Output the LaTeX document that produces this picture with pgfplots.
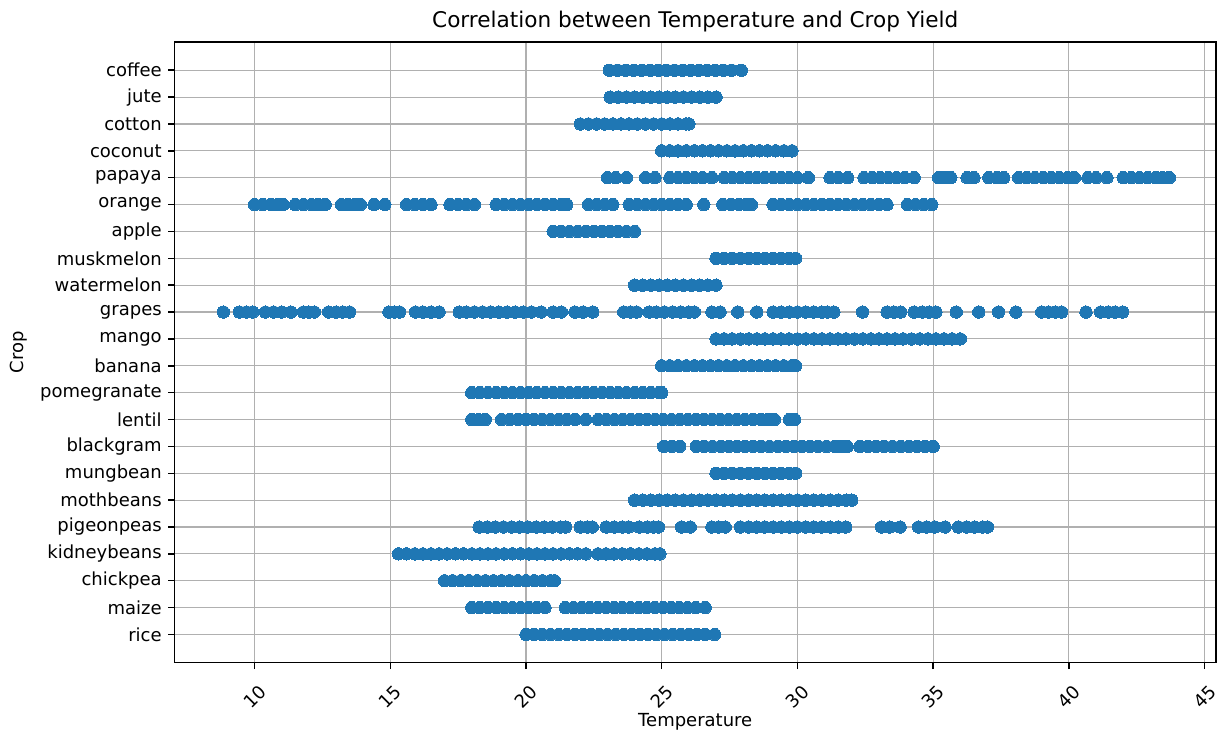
\documentclass[border=0pt]{standalone}
\usepackage{fontspec}
\setmainfont{DejaVu Sans}
\usepackage{pgfplots}
\pgfplotsset{compat=1.18}
\definecolor{mplblue}{HTML}{1F77B4}
\definecolor{gridgray}{HTML}{B0B0B0}
\pgfplotsset{crop/.style={only marks, mark=*, mark size=6.2pt, color=mplblue, mark options={fill=mplblue, draw=mplblue, line width=0pt}}}
\begin{document}
\begin{tikzpicture}
\begin{axis}[
  at={(0,0)}, anchor=south west,
  scale only axis,
  width=1041.5pt, height=620.7pt,
  xmin=7.05, xmax=45.42,
  ymin=-1.05, ymax=22.05,
  xtick={10,15,20,25,30,35,40,45},
  ytick={0,...,21},
  yticklabels={rice,maize,chickpea,kidneybeans,pigeonpeas,mothbeans,mungbean,blackgram,lentil,pomegranate,banana,mango,grapes,watermelon,muskmelon,apple,orange,papaya,coconut,cotton,jute,coffee},
  xtick pos=bottom, ytick pos=left,
  tick align=outside,
  major tick length=6.3pt,
  every tick/.style={black, line width=1.44pt},
  axis line style={line width=1.44pt, black},
  grid=major,
  major grid style={line width=1.15pt, draw=gridgray},
  axis on top,
  /pgf/number format/assume math mode=true,
  tick label style={font=\fontsize{18}{21.6}\selectfont},
  xticklabel style={yshift=-27.8pt, rotate=45, anchor=center, inner sep=0pt},
  yticklabel style={anchor=east, inner sep=0pt, xshift=-6.3pt},
  every axis title/.style={at={(axis description cs:0.5,1)}, anchor=center, yshift=20pt, font=\fontsize{21.6}{26}\selectfont},
  every axis x label/.style={at={(axis description cs:0.5,0)}, anchor=center, yshift=-59pt, font=\fontsize{18}{21.6}\selectfont},
  every axis y label/.style={at={(axis description cs:0,0.5)}, xshift=-155.5pt, rotate=90, anchor=center, font=\fontsize{18}{21.6}\selectfont},
  title={Correlation between Temperature and Crop Yield},
  xlabel={Temperature},
  ylabel={Crop},
]
% rice
\addplot[crop] coordinates {(20.0,0)(20.3,0)(20.6,0)(20.9,0)(21.2,0)(21.5,0)(21.8,0)(22.1,0)(22.4,0)(22.7,0)(23.0,0)(23.3,0)(23.6,0)(23.9,0)(24.2,0)(24.5,0)(24.8,0)(25.1,0)(25.4,0)(25.7,0)(26.0,0)(26.3,0)(26.6,0)(26.95,0)};
% maize
\addplot[crop] coordinates {(18.0,1)(18.3,1)(18.6,1)(18.9,1)(19.2,1)(19.5,1)(19.8,1)(20.1,1)(20.4,1)(20.7,1)(21.45,1)(21.75,1)(22.05,1)(22.35,1)(22.65,1)(22.95,1)(23.25,1)(23.55,1)(23.85,1)(24.15,1)(24.45,1)(24.75,1)(25.05,1)(25.35,1)(25.65,1)(25.95,1)(26.25,1)(26.6,1)};
% chickpea
\addplot[crop] coordinates {(17.0,2)(17.3,2)(17.6,2)(17.9,2)(18.2,2)(18.5,2)(18.8,2)(19.1,2)(19.4,2)(19.7,2)(20.0,2)(20.3,2)(20.6,2)(20.9,2)(21.05,2)};
% kidneybeans
\addplot[crop] coordinates {(15.3,3)(15.6,3)(15.9,3)(16.2,3)(16.5,3)(16.8,3)(17.1,3)(17.4,3)(17.7,3)(18.0,3)(18.3,3)(18.6,3)(18.9,3)(19.2,3)(19.5,3)(19.8,3)(20.1,3)(20.4,3)(20.7,3)(21.0,3)(21.3,3)(21.6,3)(21.9,3)(22.2,3)(22.65,3)(22.95,3)(23.25,3)(23.55,3)(23.85,3)(24.15,3)(24.45,3)(24.75,3)(24.93,3)};
% pigeonpeas
\addplot[crop] coordinates {(18.27,4)(18.57,4)(18.87,4)(19.17,4)(19.47,4)(19.77,4)(20.07,4)(20.37,4)(20.67,4)(20.97,4)(21.27,4)(21.46,4)(22.0,4)(22.25,4)(22.44,4)(22.95,4)(23.25,4)(23.55,4)(23.78,4)(24.17,4)(24.47,4)(24.7,4)(24.88,4)(25.73,4)(26.05,4)(26.85,4)(27.1,4)(27.34,4)(27.9,4)(28.2,4)(28.5,4)(28.8,4)(29.1,4)(29.4,4)(29.7,4)(30.0,4)(30.3,4)(30.6,4)(30.9,4)(31.2,4)(31.5,4)(31.78,4)(33.1,4)(33.4,4)(33.78,4)(34.46,4)(34.76,4)(35.06,4)(35.44,4)(35.93,4)(36.23,4)(36.53,4)(36.83,4)(37.0,4)};
% mothbeans
\addplot[crop] coordinates {(24.0,5)(24.3,5)(24.6,5)(24.9,5)(25.2,5)(25.5,5)(25.8,5)(26.1,5)(26.4,5)(26.7,5)(27.0,5)(27.3,5)(27.6,5)(27.9,5)(28.2,5)(28.5,5)(28.8,5)(29.1,5)(29.4,5)(29.7,5)(30.0,5)(30.3,5)(30.6,5)(30.9,5)(31.2,5)(31.5,5)(31.8,5)(32.0,5)};
% mungbean
\addplot[crop] coordinates {(27.0,6)(27.3,6)(27.6,6)(27.9,6)(28.2,6)(28.5,6)(28.8,6)(29.1,6)(29.4,6)(29.7,6)(29.93,6)};
% blackgram
\addplot[crop] coordinates {(25.07,7)(25.37,7)(25.66,7)(26.27,7)(26.57,7)(26.87,7)(27.17,7)(27.47,7)(27.77,7)(28.07,7)(28.37,7)(28.67,7)(28.97,7)(29.27,7)(29.57,7)(29.87,7)(30.17,7)(30.47,7)(30.77,7)(31.07,7)(31.37,7)(31.6,7)(31.83,7)(32.3,7)(32.6,7)(32.9,7)(33.2,7)(33.5,7)(33.8,7)(34.1,7)(34.4,7)(34.7,7)(35.0,7)};
% lentil
\addplot[crop] coordinates {(18.0,8)(18.25,8)(18.5,8)(19.1,8)(19.4,8)(19.7,8)(20.0,8)(20.3,8)(20.6,8)(20.9,8)(21.2,8)(21.5,8)(21.8,8)(22.2,8)(22.66,8)(22.96,8)(23.26,8)(23.56,8)(23.86,8)(24.16,8)(24.46,8)(24.76,8)(25.06,8)(25.36,8)(25.66,8)(25.96,8)(26.26,8)(26.56,8)(26.86,8)(27.16,8)(27.46,8)(27.76,8)(28.06,8)(28.36,8)(28.66,8)(28.9,8)(29.15,8)(29.7,8)(29.9,8)};
% pomegranate
\addplot[crop] coordinates {(18.0,9)(18.3,9)(18.6,9)(18.9,9)(19.2,9)(19.5,9)(19.8,9)(20.1,9)(20.4,9)(20.7,9)(21.0,9)(21.3,9)(21.6,9)(21.9,9)(22.2,9)(22.5,9)(22.8,9)(23.1,9)(23.4,9)(23.7,9)(24.0,9)(24.3,9)(24.6,9)(24.9,9)(25.0,9)};
% banana
\addplot[crop] coordinates {(25.0,10)(25.3,10)(25.6,10)(25.9,10)(26.2,10)(26.5,10)(26.8,10)(27.1,10)(27.4,10)(27.7,10)(28.0,10)(28.3,10)(28.6,10)(28.9,10)(29.2,10)(29.5,10)(29.8,10)(29.93,10)};
% mango
\addplot[crop] coordinates {(27.0,11)(27.3,11)(27.6,11)(27.9,11)(28.2,11)(28.5,11)(28.8,11)(29.1,11)(29.4,11)(29.7,11)(30.0,11)(30.3,11)(30.6,11)(30.9,11)(31.2,11)(31.5,11)(31.8,11)(32.1,11)(32.4,11)(32.7,11)(33.0,11)(33.3,11)(33.6,11)(33.9,11)(34.2,11)(34.5,11)(34.8,11)(35.1,11)(35.4,11)(35.7,11)(36.0,11)};
% grapes
\addplot[crop] coordinates {(8.85,12)(9.44,12)(9.7,12)(9.93,12)(10.4,12)(10.7,12)(11.0,12)(11.34,12)(11.8,12)(12.0,12)(12.2,12)(12.73,12)(13.0,12)(13.25,12)(13.5,12)(14.95,12)(15.15,12)(15.34,12)(15.93,12)(16.2,12)(16.5,12)(16.8,12)(17.54,12)(17.8,12)(18.1,12)(18.4,12)(18.7,12)(19.0,12)(19.3,12)(19.6,12)(19.9,12)(20.2,12)(20.56,12)(21.0,12)(21.3,12)(21.8,12)(22.1,12)(22.46,12)(23.6,12)(23.85,12)(24.07,12)(24.54,12)(24.8,12)(25.1,12)(25.4,12)(25.7,12)(26.0,12)(26.2,12)(26.85,12)(27.15,12)(27.8,12)(28.5,12)(29.1,12)(29.4,12)(29.7,12)(30.0,12)(30.3,12)(30.6,12)(30.9,12)(31.1,12)(31.34,12)(32.4,12)(33.3,12)(33.55,12)(33.8,12)(34.3,12)(34.6,12)(34.85,12)(35.1,12)(35.85,12)(36.68,12)(37.41,12)(38.05,12)(39.0,12)(39.25,12)(39.5,12)(39.73,12)(40.63,12)(41.17,12)(41.45,12)(41.7,12)(41.98,12)};
% watermelon
\addplot[crop] coordinates {(24.0,13)(24.3,13)(24.6,13)(24.9,13)(25.2,13)(25.5,13)(25.8,13)(26.1,13)(26.4,13)(26.7,13)(27.0,13)};
% muskmelon
\addplot[crop] coordinates {(27.0,14)(27.3,14)(27.6,14)(27.9,14)(28.2,14)(28.5,14)(28.8,14)(29.1,14)(29.4,14)(29.7,14)(29.93,14)};
% apple
\addplot[crop] coordinates {(21.0,15)(21.3,15)(21.6,15)(21.9,15)(22.2,15)(22.5,15)(22.8,15)(23.1,15)(23.4,15)(23.7,15)(24.0,15)};
% orange
\addplot[crop] coordinates {(10.0,16)(10.3,16)(10.6,16)(10.85,16)(11.05,16)(11.5,16)(11.8,16)(12.1,16)(12.35,16)(12.6,16)(13.2,16)(13.45,16)(13.7,16)(13.9,16)(14.4,16)(14.8,16)(15.6,16)(15.9,16)(16.2,16)(16.5,16)(17.2,16)(17.5,16)(17.8,16)(18.1,16)(18.9,16)(19.2,16)(19.5,16)(19.8,16)(20.1,16)(20.4,16)(20.7,16)(21.0,16)(21.3,16)(21.5,16)(22.3,16)(22.6,16)(22.9,16)(23.2,16)(23.8,16)(24.1,16)(24.4,16)(24.7,16)(25.0,16)(25.3,16)(25.6,16)(25.9,16)(26.55,16)(27.25,16)(27.55,16)(27.85,16)(28.1,16)(28.3,16)(29.1,16)(29.4,16)(29.7,16)(30.0,16)(30.3,16)(30.6,16)(30.9,16)(31.2,16)(31.5,16)(31.8,16)(32.1,16)(32.4,16)(32.7,16)(33.0,16)(33.3,16)(34.05,16)(34.35,16)(34.65,16)(34.95,16)};
% papaya
\addplot[crop] coordinates {(23.0,17)(23.3,17)(23.7,17)(24.4,17)(24.75,17)(25.3,17)(25.6,17)(25.9,17)(26.2,17)(26.5,17)(26.85,17)(27.3,17)(27.6,17)(27.9,17)(28.2,17)(28.5,17)(28.8,17)(29.1,17)(29.4,17)(29.7,17)(30.0,17)(30.4,17)(31.2,17)(31.5,17)(31.85,17)(32.45,17)(32.75,17)(33.05,17)(33.35,17)(33.65,17)(33.95,17)(34.3,17)(35.2,17)(35.45,17)(35.65,17)(36.25,17)(36.5,17)(37.05,17)(37.35,17)(37.6,17)(38.15,17)(38.45,17)(38.75,17)(39.05,17)(39.35,17)(39.65,17)(39.95,17)(40.2,17)(40.7,17)(41.0,17)(41.4,17)(42.0,17)(42.3,17)(42.6,17)(42.9,17)(43.2,17)(43.45,17)(43.7,17)};
% coconut
\addplot[crop] coordinates {(25.0,18)(25.3,18)(25.6,18)(25.9,18)(26.2,18)(26.5,18)(26.8,18)(27.1,18)(27.4,18)(27.7,18)(28.0,18)(28.3,18)(28.6,18)(28.9,18)(29.2,18)(29.5,18)(29.8,18)};
% cotton
\addplot[crop] coordinates {(22.0,19)(22.3,19)(22.6,19)(22.9,19)(23.2,19)(23.5,19)(23.8,19)(24.1,19)(24.4,19)(24.7,19)(25.0,19)(25.3,19)(25.6,19)(25.9,19)(26.0,19)};
% jute
\addplot[crop] coordinates {(23.1,20)(23.4,20)(23.7,20)(24.0,20)(24.3,20)(24.6,20)(24.9,20)(25.2,20)(25.5,20)(25.8,20)(26.1,20)(26.4,20)(26.7,20)(27.0,20)};
% coffee
\addplot[crop] coordinates {(23.07,21)(23.37,21)(23.67,21)(23.97,21)(24.27,21)(24.57,21)(24.87,21)(25.17,21)(25.47,21)(25.77,21)(26.07,21)(26.37,21)(26.67,21)(26.97,21)(27.27,21)(27.57,21)(27.93,21)};
\end{axis}
\pgfresetboundingbox
\path[use as bounding box] (-174.5pt,-71.3pt) rectangle (1043.5pt,662.7pt);
\end{tikzpicture}
\end{document}
